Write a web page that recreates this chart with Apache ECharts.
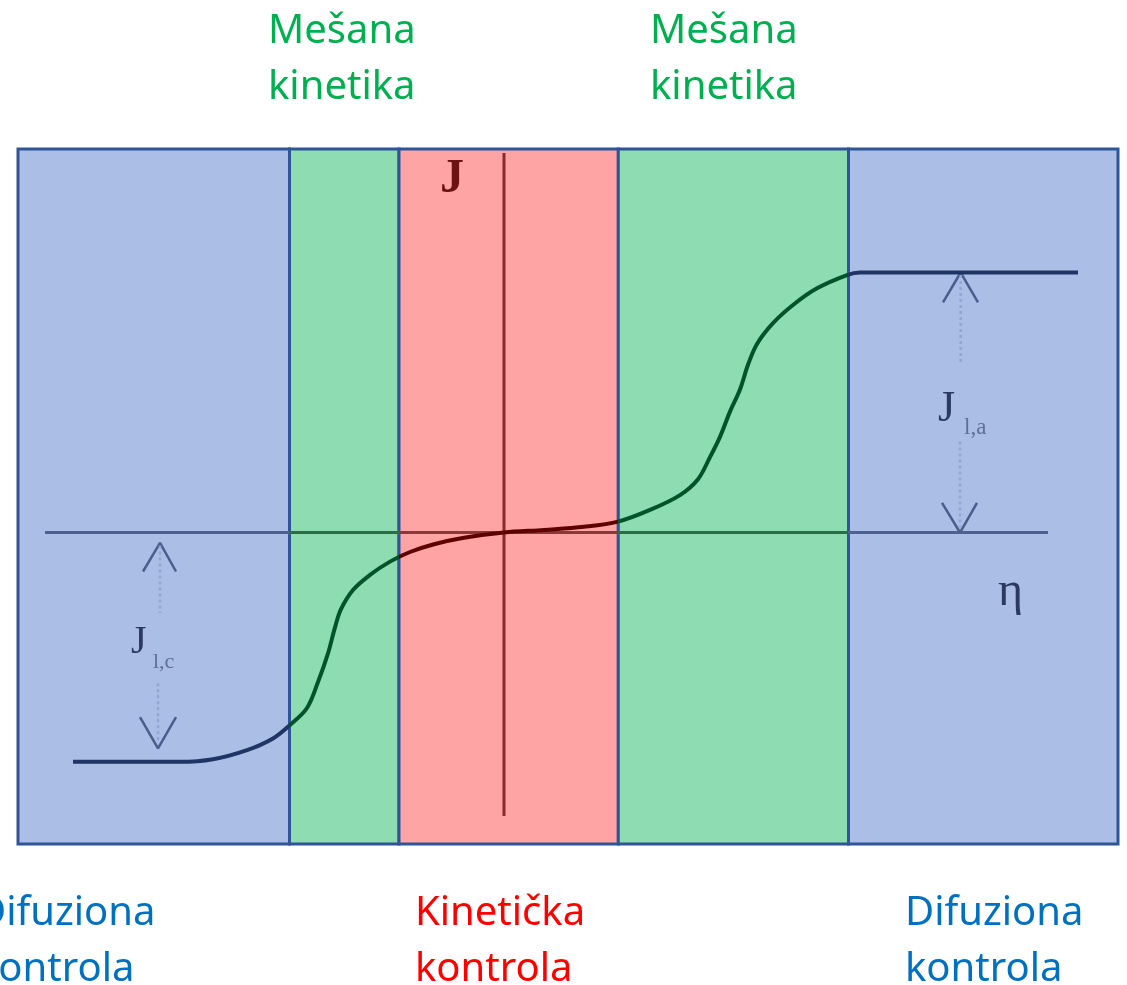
<!DOCTYPE html>
<html>
<head>
<meta charset="utf-8">
<script src="https://cdn.jsdelivr.net/npm/echarts@6/dist/echarts.min.js"></script>
<style>
  html, body { margin: 0; padding: 0; background: #fff; }
  #chart { width: 1127px; height: 985px; }
</style>
</head>
<body>
<div id="chart"></div>
<script>
// granice zona (eta)
const bandEdges = [-4.86, -2.145, -1.05, 1.143, 3.445, 6.14];
const bandColors = ["#abbee6", "#8edcb1", "#fea4a5", "#8edcb1", "#abbee6"];

// polarizaciona kriva J(eta)
const curveEta = [-4.31, -3.24, -2.91, -2.57, -2.31, -2.14, -1.97, -1.86, -1.76, -1.69, -1.63, -1.51, -1.34, -1.14, -0.94, -0.7, -0.4, 0, 0.4, 0.8, 1.14, 1.46, 1.76, 1.94, 2.06, 2.16, 2.26, 2.36, 2.44, 2.53, 2.69, 2.89, 3.13, 3.43, 3.56, 5.74];
const curveJ = [-0.882, -0.882, -0.872, -0.837, -0.792, -0.74, -0.675, -0.575, -0.465, -0.365, -0.295, -0.221, -0.163, -0.112, -0.075, -0.045, -0.02, 0, 0.01, 0.022, 0.042, 0.087, 0.144, 0.205, 0.29, 0.368, 0.465, 0.55, 0.645, 0.725, 0.805, 0.875, 0.939, 0.99, 1.0, 1.0];

// ose
const etaAxis = [[-4.59, 0], [5.44, 0]];
const jAxis = [[0, 1.46], [0, -1.09]];

// strelice za granicne struje
const chevrons = [
  [[4.39, 0.885], [4.567, 1.0], [4.74, 0.885]],
  [[4.38, 0.114], [4.56, 0.0], [4.73, 0.114]],
  [[-3.61, -0.15], [-3.44, -0.04], [-3.28, -0.15]],
  [[-3.64, -0.71], [-3.46, -0.83], [-3.28, -0.71]]
];
const shafts = [
  [[4.567, 0.99], [4.567, 0.65]],
  [[4.56, 0.35], [4.56, 0.02]],
  [[-3.44, -0.05], [-3.44, -0.31]],
  [[-3.46, -0.58], [-3.46, -0.81]]
];

const chart = echarts.init(document.getElementById("chart"));

const bandAreas = bandColors.map((c, i) => [
  { xAxis: bandEdges[i], itemStyle: { color: c } },
  { xAxis: bandEdges[i + 1] }
]);

const toPairs = (xs, ys) => xs.map((x, i) => [x, ys[i]]);

const bandPieces = (colors) => [
  { lt: bandEdges[1], color: colors[0] },
  { gte: bandEdges[1], lt: bandEdges[2], color: colors[1] },
  { gte: bandEdges[2], lt: bandEdges[3], color: colors[2] },
  { gte: bandEdges[3], lt: bandEdges[4], color: colors[1] },
  { gte: bandEdges[4], color: colors[0] }
];

const series = [
  {
    type: "line",
    data: [],
    z: 1,
    markArea: {
      silent: true,
      itemStyle: { borderColor: "#2f5597", borderWidth: 3, opacity: 1 },
      data: bandAreas
    }
  },
  {
    type: "line",
    data: etaAxis,
    symbol: "none",
    z: 3,
    lineStyle: { width: 3 }
  },
  {
    type: "line",
    data: jAxis,
    symbol: "none",
    z: 3,
    lineStyle: { width: 3, color: "#8a2a2a" }
  },
  {
    type: "line",
    data: toPairs(curveEta, curveJ),
    symbol: "none",
    smooth: 0.35,
    z: 5,
    lineStyle: { width: 4 }
  }
];

chevrons.forEach((pts) => {
  series.push({
    type: "line",
    data: pts,
    symbol: "none",
    z: 4,
    lineStyle: { width: 2.5, color: "#4a5e8e" }
  });
});
shafts.forEach((pts) => {
  series.push({
    type: "line",
    data: pts,
    symbol: "none",
    z: 4,
    lineStyle: { width: 2.5, color: "#93a5d0", type: [3, 3] }
  });
});

const txt = (text, x, y, font, color) => ({
  type: "text",
  x: x,
  y: y,
  z: 10,
  style: {
    text: text,
    font: font,
    fill: color,
    textAlign: "left",
    textVerticalAlign: "middle"
  }
});

const sans = '40px "Noto Sans"';
const serif = '"Liberation Serif", "DejaVu Serif", serif';

chart.setOption({
  animation: false,
  grid: { left: 18, top: 149, width: 1100, height: 695 },
  xAxis: {
    type: "value",
    min: bandEdges[0],
    max: bandEdges[5],
    show: false
  },
  yAxis: {
    type: "value",
    min: -1.198,
    max: 1.475,
    show: false
  },
  visualMap: [
    {
      type: "piecewise",
      show: false,
      dimension: 0,
      seriesIndex: 3,
      pieces: bandPieces(["#1f3563", "#00532a", "#5e0000"])
    },
    {
      type: "piecewise",
      show: false,
      dimension: 0,
      seriesIndex: 1,
      pieces: bandPieces(["#4d6190", "#2b6d46", "#8a3838"])
    }
  ],
  series: series,
  graphic: [
    txt("Mešana", 268, 32, sans, "#00b050"),
    txt("kinetika", 268, 88, sans, "#00b050"),
    txt("Mešana", 650, 32, sans, "#00b050"),
    txt("kinetika", 650, 88, sans, "#00b050"),
    txt("Difuziona", -23, 914, sans, "#0070c0"),
    txt("kontrola", -23, 970, sans, "#0070c0"),
    txt("Kinetička", 415, 914, sans, "#ff0000"),
    txt("kontrola", 415, 970, sans, "#ff0000"),
    txt("Difuziona", 905, 914, sans, "#0070c0"),
    txt("kontrola", 905, 970, sans, "#0070c0"),
    txt("J", 440, 180, "bold 48px " + serif, "#6b1212"),
    txt("η", 998, 592, "48px " + serif, "#2b3a5e"),
    txt("J", 938, 409, "44px " + serif, "#2a3a60"),
    txt("l,a", 964, 428, "23px " + serif, "#5f6f98"),
    txt("J", 131, 642, "40px " + serif, "#2a3a60"),
    txt("l,c", 153, 662, "22px " + serif, "#5f6f98")
  ]
});
</script>
</body>
</html>
